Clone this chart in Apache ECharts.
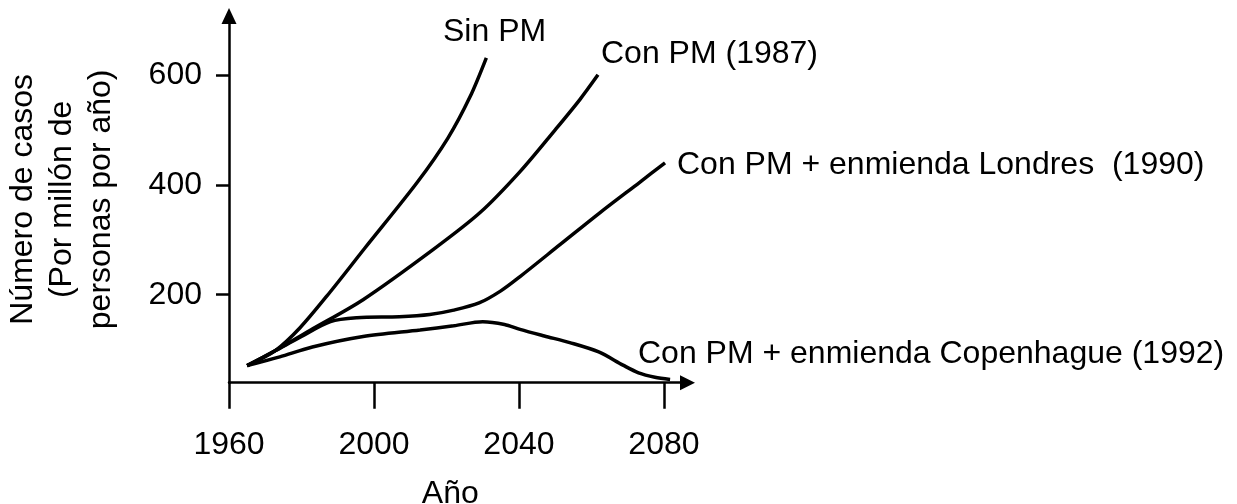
<!DOCTYPE html>
<html>
<head>
<meta charset="utf-8">
<script src="https://cdn.jsdelivr.net/npm/echarts@6/dist/echarts.min.js"></script>
<style>
  html, body { margin: 0; padding: 0; background: #ffffff; }
  #chart { width: 1237px; height: 504px; }
</style>
</head>
<body>
<div id="chart"></div>
<script>
// Projected skin-cancer cases per million people per year, by scenario
const yearTicks = [1960, 2000, 2040, 2080];
const caseTicks = [200, 400, 600];

const sinPM = [[1965, 71], [1972.7, 98], [1979.6, 140], [1987.9, 205], [1997.5, 285], [2012, 405], [2020.4, 485], [2026.5, 560], [2031, 631]];
const conPM1987 = [[1965, 71], [1972.7, 98], [1982.3, 135], [1997, 191], [2016.3, 282], [2029.2, 349], [2040.3, 424], [2050, 500], [2056.8, 555], [2061.8, 600]];
const conPMLondres = [[1965, 71], [1972.7, 98], [1980, 124], [1988, 151], [1995.3, 158], [2007, 160], [2015.4, 164], [2022, 172], [2029, 185], [2035, 207], [2040.3, 233], [2051.3, 291], [2062.3, 349], [2073.4, 405], [2080.3, 440]];
const conPMCopenhague = [[1965, 71], [1974, 87], [1983, 105], [1997, 124], [2012.7, 136], [2022, 143.5], [2030, 151], [2036, 146], [2040.3, 137], [2047, 125], [2054, 113], [2062, 96], [2068.7, 72], [2073, 58], [2077.5, 50], [2081.7, 46]];

const seriesNames = ['Sin PM', 'Con PM (1987)', 'Con PM + enmienda Londres  (1990)', 'Con PM + enmienda Copenhague (1992)'];
const seriesData = [sinPM, conPM1987, conPMLondres, conPMCopenhague];

const FONT = '"Liberation Sans", Arial, Helvetica, sans-serif';
const INK = '#000000';

const chart = echarts.init(document.getElementById('chart'), null, { renderer: 'canvas' });

const labelSpots = [
  { x: 443, y: 32 },
  { x: 601, y: 54 },
  { x: 677, y: 165 },
  { x: 638, y: 354 }
];

chart.setOption({
  backgroundColor: '#ffffff',
  animation: false,
  grid: { left: 229, right: 549.5, top: 16, bottom: 121.3, containLabel: false, outerBoundsMode: 'none' },
  xAxis: {
    type: 'value',
    min: 1960,
    max: 2086.5,
    name: 'Año',
    nameLocation: 'middle',
    nameGap: 95,
    nameTextStyle: { fontFamily: FONT, fontSize: 32, color: INK, padding: [0, 16, 0, 0] },
    splitLine: { show: false },
    axisLine: {
      onZero: false,
      symbol: ['none', 'triangle'],
      symbolSize: [15, 15],
      lineStyle: { color: INK, width: 2.5 }
    },
    axisTick: { show: true, length: 26, inside: false, customValues: yearTicks, lineStyle: { color: INK, width: 2.5 } },
    axisLabel: { customValues: yearTicks, margin: 46, fontFamily: FONT, fontSize: 32, color: INK, formatter: v => String(v) }
  },
  yAxis: {
    type: 'value',
    min: 40,
    max: 707,
    name: 'Número de casos\n(Por millón de\npersonas por año)',
    nameLocation: 'middle',
    nameRotate: 90,
    nameGap: 108,
    nameTextStyle: { fontFamily: FONT, fontSize: 32, color: INK, lineHeight: 39, align: 'center' },
    splitLine: { show: false },
    axisLine: {
      onZero: false,
      symbol: ['none', 'triangle'],
      symbolSize: [15, 16],
      lineStyle: { color: INK, width: 2.5 }
    },
    axisTick: { show: true, length: 13, inside: false, customValues: caseTicks, lineStyle: { color: INK, width: 2.5 } },
    axisLabel: { customValues: caseTicks, margin: 27, fontFamily: FONT, fontSize: 32, color: INK, formatter: v => String(v) }
  },
  graphic: seriesNames.map((n, i) => ({
    type: 'text',
    x: labelSpots[i].x,
    y: labelSpots[i].y,
    style: { text: n, font: '32px ' + FONT, fill: INK, textAlign: 'left', textVerticalAlign: 'middle' }
  })),
  series: seriesData.map((d, i) => ({
    name: seriesNames[i],
    type: 'line',
    data: d,
    smooth: 0.3,
    showSymbol: false,
    lineStyle: { color: INK, width: 3.5 },
    z: 3
  }))
});
</script>
</body>
</html>
